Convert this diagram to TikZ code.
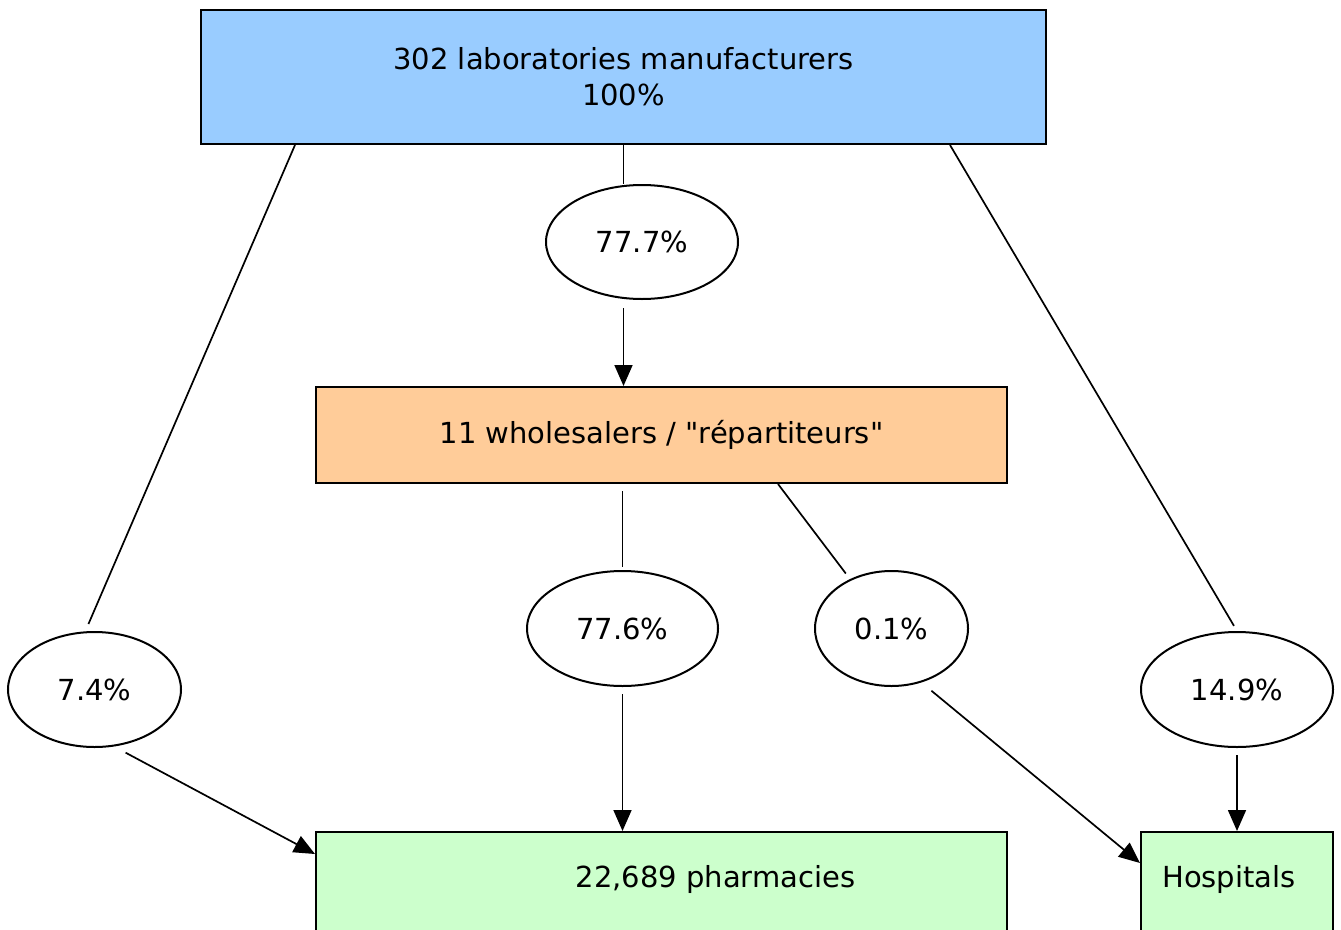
\documentclass[tikz,border=0pt]{standalone}
\usepackage{fontspec}
\setmainfont{DejaVu Sans}[Ligatures=TeXOff]
\usepackage{tikz}
\usetikzlibrary{arrows.meta, shapes.geometric}

\begin{document}
\begin{tikzpicture}[
    x=1pt, y=-1pt,
    box/.style={draw, line width=2pt, inner sep=0pt, align=center},
    pct/.style={draw, ellipse, line width=2pt, inner sep=0pt},
    lbl/.style={inner sep=0pt},
    arr/.style={-{Triangle[length=21pt, width=18pt]}, line width=1.7pt},
    lin/.style={line width=1.7pt},
    font=\fontsize{29}{36}\selectfont
]
    \useasboundingbox (0,0) rectangle (1341,929);

    \node[box, fill={rgb,255:red,153;green,204;blue,255}, minimum width=845pt, minimum height=134pt] (lab) at (623.5,77) {302 laboratories manufacturers\\100\%};
    \node[box, fill={rgb,255:red,255;green,204;blue,153}, minimum width=691pt, minimum height=96pt] (wh) at (661.5,435) {11 wholesalers / "répartiteurs"};
    \node[box, fill={rgb,255:red,204;green,255;blue,204}, minimum width=691pt, minimum height=110pt] (pha) at (661.5,887) {};
    \node[box, fill={rgb,255:red,204;green,255;blue,204}, minimum width=192pt, minimum height=110pt] (hos) at (1237,887) {};
    \node[lbl] (phatxt) at (715.5,879) {22,689 pharmacies};
    \node[lbl, anchor=west] (hostxt) at (1162,879) {Hospitals};

    \node[pct, minimum width=192pt, minimum height=114pt] (p777) at (642,242) {77.7\%};
    \node[pct, minimum width=191pt, minimum height=115pt] (p776) at (622.5,628.5) {77.6\%};
    \node[pct, minimum width=153pt, minimum height=115pt] (p01)  at (891.5,628.5) {0.1\%};
    \node[pct, minimum width=173pt, minimum height=115pt] (p74)  at (94.5,689.5) {7.4\%};
    \node[pct, minimum width=192pt, minimum height=115pt] (p149) at (1237,689.5) {14.9\%};

    % manufacturers
    \draw[lin] (lab.south) -- (lab.south |- p777.north);
    \draw[arr, shorten <=8pt] (p777.south -| lab.south) -- (wh.north -| lab.south);
    \draw[lin, shorten >=8pt] ([xshift=95pt]lab.south west) -- (p74.99);
    \draw[lin, shorten >=6pt] ([xshift=-97pt]lab.south east) -- (p149.north);

    % wholesalers
    \draw[lin, shorten <=7pt, shorten >=3pt] (wh.south -| p776.north) -- (p776.north);
    \draw[lin, shorten >=7pt] ([xshift=-230pt]wh.south east) -- (p01.130);

    % to pharmacies and hospitals
    \draw[arr, shorten <=7pt] (p776.south) -- (p776.south |- pha.north);
    \draw[arr, shorten <=13pt] (p74.-71) -- ([yshift=-23pt]pha.north west);
    \draw[arr, shorten <=13pt] (p01.-61) -- ([yshift=-32pt]hos.north west);
    \draw[arr, shorten <=7pt] (p149.south) -- (p149.south |- hos.north);
\end{tikzpicture}
\end{document}
